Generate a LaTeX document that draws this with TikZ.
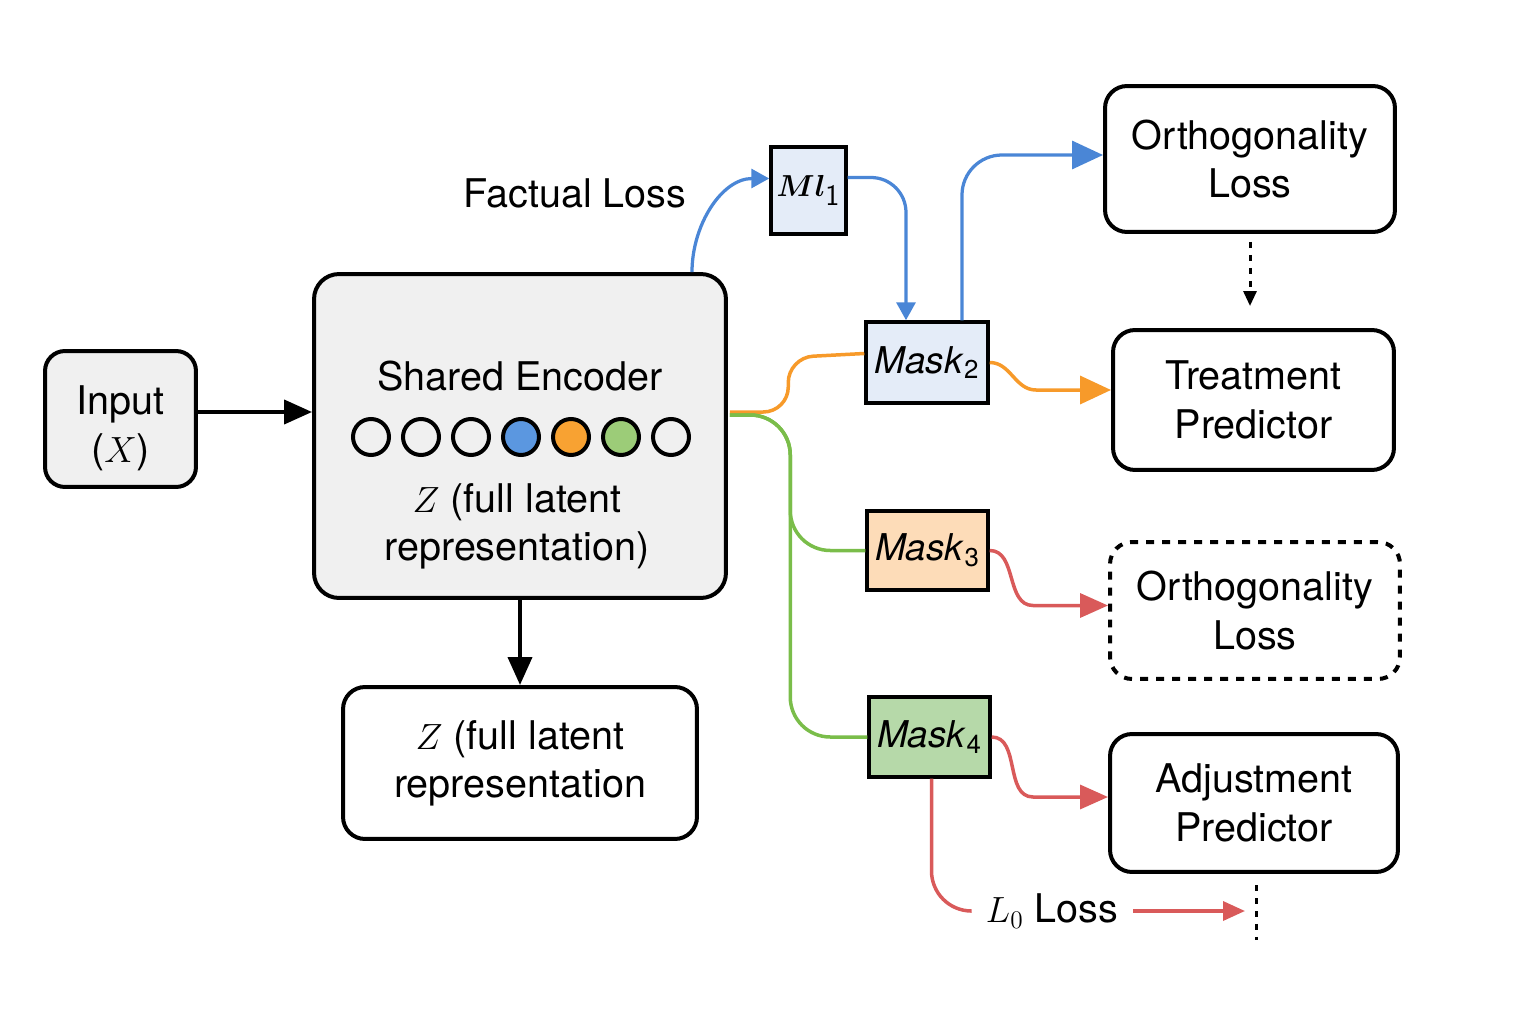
\documentclass[tikz,border=0pt]{standalone}
\usepackage{fontspec}
\setmainfont{TeX Gyre Heros}
\usepackage{bm}
\usepackage{tikz}
\usetikzlibrary{arrows.meta,calc}

\definecolor{boxgray}{HTML}{F0F0F0}
\definecolor{maskblue}{HTML}{E4ECF8}
\definecolor{maskpeach}{HTML}{FDDCB8}
\definecolor{maskgreen}{HTML}{B6D9A9}
\definecolor{lineblue}{HTML}{4A86D6}
\definecolor{lineorange}{HTML}{F79A2A}
\definecolor{linegreen}{HTML}{7ABD4A}
\definecolor{linered}{HTML}{D95A5A}
\definecolor{dotblue}{HTML}{5B97E0}
\definecolor{dotorange}{HTML}{F8A232}
\definecolor{dotgreen}{HTML}{9CCC78}

\begin{document}
\begin{tikzpicture}[x=0.02cm,y=-0.02cm,
    font=\fontsize{22.5}{27.5}\selectfont,
    box/.style={draw, line width=0.08cm, rounded corners=0.44cm, inner sep=0pt, align=center},
    maskbox/.style={draw, line width=0.07cm, inner sep=0pt, font=\fontsize{21}{25}\selectfont},
    latent/.style={circle, draw, line width=0.08cm, minimum size=0.72cm, inner sep=0pt},
    blackarrow/.style={line width=0.08cm, -{Triangle[length=0.56cm,width=0.48cm]}},
    blueline/.style={draw=lineblue, line width=0.065cm},
    orangeline/.style={draw=lineorange, line width=0.07cm},
    greenline/.style={draw=linegreen, line width=0.07cm},
    redline/.style={draw=linered, line width=0.07cm},
    smallhead/.style={-{Triangle[length=0.36cm,width=0.38cm]}},
    bighead/.style={-{Triangle[length=0.62cm,width=0.56cm]}},
    redhead/.style={-{Triangle[length=0.56cm,width=0.48cm]}},
    dotline/.style={line width=0.06cm, dash pattern=on 0.12cm off 0.14cm}]

\useasboundingbox (0,0) rectangle (1536,1024);

% left part
\node[box, fill=boxgray, minimum width=3.02cm, minimum height=2.72cm, rounded corners=0.4cm] (input) at (120.5,419) {};
\node[align=center] (inputtext) at (120.5,428) {Input\\($X$)};
\node[box, fill=boxgray, minimum width=8.24cm, minimum height=6.48cm, rounded corners=0.5cm] (enc) at (520,436) {};
\node (enctitle) at (520,376) {Shared Encoder};
\node[latent] (z1) at (371,437) {};
\node[latent] (z2) at (421,437) {};
\node[latent] (z3) at (471,437) {};
\node[latent, fill=dotblue] (z4) at (521,437) {};
\node[latent, fill=dotorange] (z5) at (571,437) {};
\node[latent, fill=dotgreen] (z6) at (621,437) {};
\node[latent] (z7) at (671,437) {};
\node[align=center] (enctext) at (517,526) {$Z$ (full latent\\representation)};
\node[box, minimum width=7.08cm, minimum height=3.04cm] (zbox) at (520,763) {$Z$ (full latent\\representation};

% masks
\node (factual) at (575,193) {Factual Loss};
\node[maskbox, fill=maskblue, minimum width=1.5cm, minimum height=1.74cm, font=\fontsize{17}{20}\selectfont] (m1) at (808.5,190.5) {$\bm{Ml}_{\textsf{1}}$};
\node[maskbox, fill=maskblue, minimum width=2.44cm, minimum height=1.62cm] (mask2) at (927,362.5) {\textit{Mask}\textsubscript{2}};
\node[maskbox, fill=maskpeach, minimum width=2.42cm, minimum height=1.58cm] (mask3) at (927.5,550.5) {\textit{Mask}\textsubscript{3}};
\node[maskbox, fill=maskgreen, minimum width=2.42cm, minimum height=1.6cm] (mask4) at (929.5,737) {\textit{Mask}\textsubscript{4}};

% right part
\node[box, minimum width=5.8cm, minimum height=2.92cm] (ortho1) at (1250,159) {Orthogonality\\Loss};
\node[box, minimum width=5.62cm, minimum height=2.8cm] (treat) at (1253.5,400) {Treatment\\Predictor};
\node[box, dash pattern=on 0.16cm off 0.16cm, minimum width=5.8cm, minimum height=2.74cm] (ortho2) at (1255,610.5) {Orthogonality\\Loss};
\node[box, minimum width=5.76cm, minimum height=2.76cm] (adjust) at (1254,803) {Adjustment\\Predictor};
\node[inner sep=0.3cm] (l0) at (1052,911) {$L_0$ Loss};
\coordinate (dtop) at (1256,885);
\coordinate (dmid) at (1256,911);
\coordinate (dbot) at (1256,940);

% black arrows
\draw[blackarrow] ($(input.east)+(0,-7)$) -- ($(input.east -| enc.west)+(0,-7)$);
\draw[blackarrow] (enc.south) -- (zbox.north);
\draw[dotline, -{Triangle[length=0.3cm,width=0.26cm]}, shorten <=0.16cm, shorten >=0.44cm] (ortho1.south) -- (ortho1.south |- treat.north);

% blue
\draw[blueline, smallhead] ($(enc.north)+(172,0)$) to[out=90,in=180] ($(m1.west)+(0,-12)$);
\draw[blueline, smallhead, rounded corners=0.7cm] ($(m1.east)+(0,-13)$) -| ($(mask2.north)+(-21,0)$);
\draw[blueline, bighead, rounded corners=0.8cm] ($(mask2.north)+(35,0)$) |- ($(ortho1.west)+(0,-4)$);

% orange
\draw[orangeline, rounded corners=0.5cm] ($(enc.east)+(2,-24)$) -| ($(mask2.west)+(-76,-5)$) -- ($(mask2.west)+(0,-9)$);
\draw[orangeline, bighead] (mask2.east) to[out=0,in=180] ($(treat.west)+(-75,-10)$) -- ($(treat.west)+(0,-10)$);

% green
\draw[greenline, rounded corners=0.8cm] ($(enc.east)+(2,-21)$) -| ($(mask3.west)+(-75,0)$) -- (mask3.west);
\draw[greenline, rounded corners=0.8cm] ($(enc.east)+(2,-21)$) -| ($(mask4.west)+(-77,0)$) -- (mask4.west);

% red
\draw[redline, redhead] (mask3.east) to[out=0,in=180] ($(ortho2.west)+(-75,-5)$) -- ($(ortho2.west)+(0,-5)$);
\draw[redline, redhead] (mask4.east) to[out=0,in=180] ($(adjust.west)+(-75,-6)$) -- ($(adjust.west)+(0,-6)$);
\draw[redline, rounded corners=0.8cm] ($(mask4.south)+(2,0)$) |- (l0.west);
\draw[redline, -{Triangle[length=0.44cm,width=0.38cm]}, shorten >=0.22cm] (l0.east) -- (dmid);
\draw[dotline] (dtop) -- (dbot);
\end{tikzpicture}
\end{document}
